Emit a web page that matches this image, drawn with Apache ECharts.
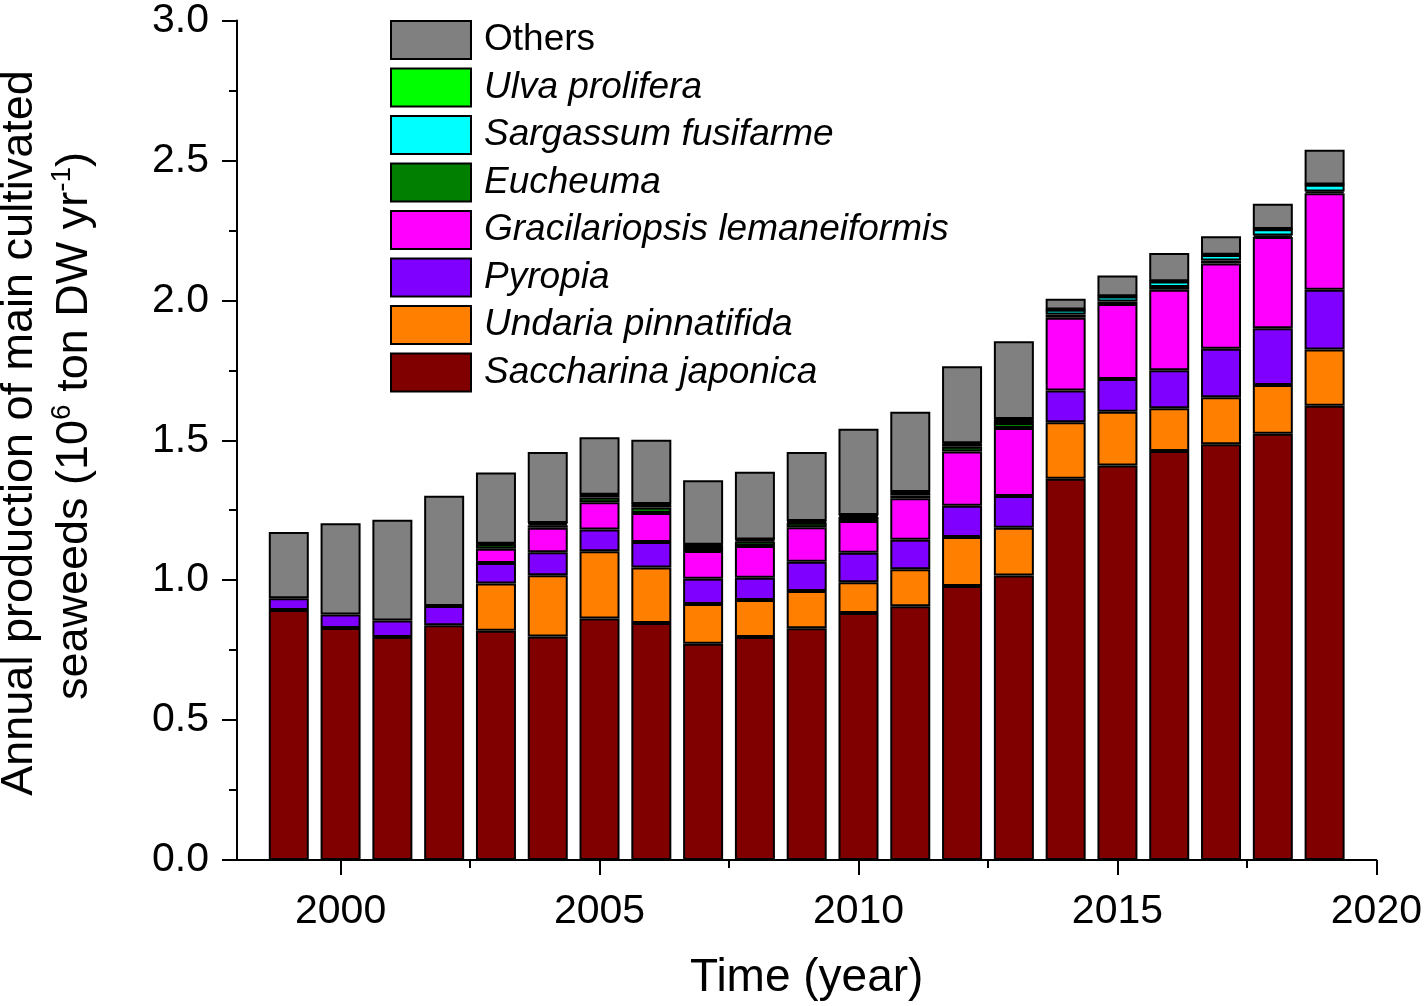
<!DOCTYPE html>
<html>
<head>
<meta charset="utf-8">
<script src="https://cdn.jsdelivr.net/npm/echarts@6/dist/echarts.min.js"></script>
<style>html,body{margin:0;padding:0;background:#fff}#c{width:1425px;height:1006px}</style>
</head>
<body>
<div id="c"></div>
<script>
const axisYears = [1998,1999,2000,2001,2002,2003,2004,2005,2006,2007,2008,2009,2010,2011,2012,2013,2014,2015,2016,2017,2018,2019,2020];
const saccharina = [null,0.893,0.829,0.797,0.839,0.819,0.799,0.863,0.847,0.773,0.797,0.828,0.883,0.907,0.979,1.017,1.362,1.410,1.462,1.486,1.523,1.623,null];
const undaria = [null,null,null,null,null,0.169,0.219,0.240,0.198,0.142,0.132,0.133,0.110,0.132,0.175,0.170,0.202,0.192,0.152,0.168,0.174,0.201,null];
const pyropia = [null,0.042,0.048,0.059,0.069,0.073,0.082,0.078,0.091,0.090,0.080,0.105,0.105,0.105,0.112,0.114,0.114,0.117,0.136,0.173,0.203,0.214,null];
const gracilariopsis = [null,null,null,null,null,0.051,0.087,0.097,0.104,0.099,0.113,0.123,0.113,0.149,0.194,0.243,0.260,0.268,0.288,0.305,0.326,0.345,null];
const eucheuma = [null,null,null,null,null,0.016,0.009,0.017,0.020,0.011,0.016,0.016,0.015,0.010,0.017,0.018,0.011,0.009,0.010,0.010,0.006,0.006,null];
const sargassum = [null,null,null,null,null,null,0.006,0.008,0.010,0.010,0.005,0.004,0.005,0.010,0.010,0.012,0.017,0.018,0.019,0.020,0.022,0.024,null];
const ulva = [null,null,null,null,null,0.002,0.002,0.002,0.002,0.002,0.002,0.002,0.002,0.002,0.002,0.002,0.001,0.001,0.001,0.001,0.001,0.001,null];
const others = [null,0.237,0.326,0.360,0.394,0.255,0.254,0.206,0.230,0.230,0.242,0.247,0.308,0.287,0.275,0.278,0.039,0.074,0.101,0.066,0.090,0.124,null];

const xMajorTicks = [2000,2005,2010,2015,2020];
const xMinorTicks = [2002.5,2007.5,2012.5,2017.5];

const seriesDefs = [
  {name:'Saccharina japonica', data:saccharina, color:'#800000'},
  {name:'Undaria pinnatifida', data:undaria, color:'#FF8000'},
  {name:'Pyropia', data:pyropia, color:'#8000FF'},
  {name:'Gracilariopsis lemaneiformis', data:gracilariopsis, color:'#FF00FF'},
  {name:'Eucheuma', data:eucheuma, color:'#007F00'},
  {name:'Sargassum fusifarme', data:sargassum, color:'#00FFFF'},
  {name:'Ulva prolifera', data:ulva, color:'#00FF00'},
  {name:'Others', data:others, color:'#808080'}
];

const FF = '"Liberation Sans", Arial, Helvetica, sans-serif';
const chart = echarts.init(document.getElementById('c'), null, {renderer:'canvas'});

const series = seriesDefs.map(d => ({
  name: d.name,
  type: 'bar',
  stack: 'total',
  xAxisIndex: 0,
  barWidth: 40,
  data: d.data,
  itemStyle: {color: d.color, borderColor: '#000', borderWidth: 2},
  emphasis: {disabled: true}
}));

chart.setOption({
  animation: false,
  backgroundColor: '#fff',
  grid: {left: 237, right: 44, top: 17, bottom: 142, containLabel: false},
  legend: {
    orient: 'vertical',
    left: 390,
    top: 20,
    padding: 0,
    icon: 'rect',
    itemWidth: 80,
    itemHeight: 38,
    itemGap: 7.5,
    selectedMode: false,
    data: ['Others','Ulva prolifera','Sargassum fusifarme','Eucheuma','Gracilariopsis lemaneiformis','Pyropia','Undaria pinnatifida','Saccharina japonica'],
    formatter: n => n === 'Others' ? '{n|' + n + '}' : '{i|' + n + '}',
    textStyle: {
      fontFamily: FF, fontSize: 37, lineHeight: 38, color: '#000',
      rich: {
        n: {fontFamily: FF, fontSize: 37, lineHeight: 38, color: '#000', padding: [0,0,0,8]},
        i: {fontFamily: FF, fontSize: 37, lineHeight: 38, color: '#000', fontStyle: 'italic', padding: [0,0,0,8]}
      }
    }
  },
  xAxis: [{
    type: 'category',
    data: axisYears,
    boundaryGap: false,
    position: 'bottom',
    axisLine: {show: false},
    axisTick: {show: false},
    axisLabel: {show: false},
    splitLine: {show: false}
  }, {
    type: 'value',
    min: 1998, max: 2020,
    position: 'bottom',
    name: 'Time (year)',
    nameLocation: 'middle',
    nameGap: 95,
    nameTextStyle: {fontFamily: FF, fontSize: 46, color: '#000'},
    axisLine: {show: true, onZero: false, lineStyle: {color: '#000', width: 2}},
    axisTick: {show: true, length: 15, inside: false, customValues: xMajorTicks, lineStyle: {color: '#000', width: 2}},
    axisLabel: {show: true, customValues: xMajorTicks, fontFamily: FF, fontSize: 41, color: '#000', margin: 31, formatter: v => String(v)},
    splitLine: {show: false}
  }, {
    type: 'value',
    min: 1998, max: 2020,
    position: 'bottom',
    axisLine: {show: false, onZero: false},
    axisTick: {show: true, length: 8, customValues: xMinorTicks, lineStyle: {color: '#000', width: 2}},
    axisLabel: {show: false},
    splitLine: {show: false}
  }],
  yAxis: {
    type: 'value',
    min: 0, max: 3, interval: 0.5,
    axisLine: {show: true, lineStyle: {color: '#000', width: 2}},
    axisTick: {show: true, length: 15, lineStyle: {color: '#000', width: 2}},
    minorTick: {show: true, splitNumber: 2, length: 8, lineStyle: {color: '#000', width: 2}},
    axisLabel: {fontFamily: FF, fontSize: 41, color: '#000', margin: 28, formatter: v => v.toFixed(1)},
    splitLine: {show: false}
  },
  graphic: [
    {
      type: 'text', x: 20, y: 433, rotation: Math.PI/2,
      style: {text: 'Annual production of main cultivated', fontFamily: FF, fontSize: 45, fill: '#000', align: 'center', verticalAlign: 'middle'}
    },
    {
      type: 'text', x: 75, y: 426, rotation: Math.PI/2,
      style: {
        text: '{a|seaweeds (10}{s|6}{a| ton DW yr}{s|-1}{a|)}',
        fontFamily: FF, fontSize: 45, fill: '#000', align: 'center', verticalAlign: 'middle',
        rich: {
          a: {fontFamily: FF, fontSize: 45, lineHeight: 54, fill: '#000'},
          s: {fontFamily: FF, fontSize: 28, lineHeight: 30, fill: '#000', verticalAlign: 'top'}
        }
      }
    }
  ],
  series: series
});
</script>
</body>
</html>
